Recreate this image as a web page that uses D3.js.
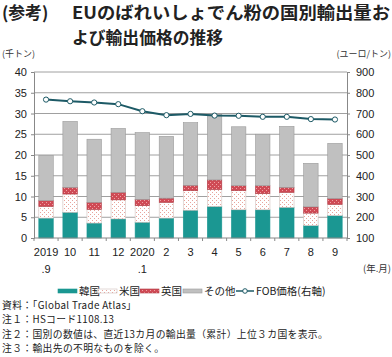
<!DOCTYPE html>
<html><head><meta charset="utf-8">
<script src="https://cdn.jsdelivr.net/npm/d3@7"></script>
<style>
body{margin:0;background:#fff;}
text{font-family:"Noto Sans CJK JP","Noto Sans",sans-serif;}
</style></head>
<body><svg id="c" width="392" height="357"></svg>
<script>
const categories = ["2019.9","10","11","12","2020.1","2","3","4","5","6","7","8","9"];
const tickLine1 = ["2019","10","11","12","2020","2","3","4","5","6","7","8","9"];
const tickLine2 = [".9","","","",".1","","","","","","","",""];
const korea = [4.8,6.2,3.6,4.6,3.8,4.8,6.7,7.6,6.8,6.8,7.4,3.0,5.4];
const usa   = [2.8,4.4,3.3,4.6,4.0,3.8,4.7,4.1,4.6,3.9,3.6,3.0,2.7];
const uk    = [1.4,1.6,1.7,1.8,1.5,1.0,1.3,2.3,1.2,1.9,1.2,1.5,1.4];
const other = [10.9,15.9,15.2,15.4,16.1,14.9,15.1,15.8,14.2,12.4,14.7,10.5,13.3];
const fob   = [767,759,753,745,711,692,698,690,689,684,684,673,671];
const leftTicks = [0,5,10,15,20,25,30,35,40];
const rightTicks = [100,200,300,400,500,600,700,800,900];
const seriesNames = ["韓国","米国","英国","その他"];

const svg = d3.select("#c");
const defs = svg.append("defs");
const pUS = defs.append("pattern").attr("id","pUS").attr("patternUnits","userSpaceOnUse").attr("width",4).attr("height",4);
pUS.append("rect").attr("width",4).attr("height",4).attr("fill","#fff");
pUS.append("rect").attr("x",0).attr("y",0).attr("width",1).attr("height",1).attr("fill","#e8a49c");
pUS.append("rect").attr("x",2).attr("y",2).attr("width",1).attr("height",1).attr("fill","#e8a49c");
const pUK = defs.append("pattern").attr("id","pUK").attr("patternUnits","userSpaceOnUse").attr("width",4).attr("height",4);
pUK.append("rect").attr("width",4).attr("height",4).attr("fill","#cf4a55");
pUK.append("rect").attr("x",0).attr("y",0).attr("width",1).attr("height",1).attr("fill","#f0a0a4");
pUK.append("rect").attr("x",2).attr("y",2).attr("width",1).attr("height",1).attr("fill","#f0a0a4");

const fills = ["#1b9792","url(#pUS)","url(#pUK)","#c0c0c0"];
const strokes = ["#1b9792","#d0c0bc","#b03a44","#9a9a9a"];

const L=34,R=347,T=72,B=238;
const x = d3.scaleBand().domain(categories).range([L,R]).paddingInner(0.4).paddingOuter(0.2);
const y = d3.scaleLinear().domain([0,40]).range([B,T]);
const y2 = d3.scaleLinear().domain([100,900]).range([B,T]);

// title
svg.append("text").attr("x",2).attr("y",19).attr("font-size",16.8).attr("font-weight","bold").attr("fill","#222").text("(参考)");
svg.append("text").attr("x",72).attr("y",19).attr("font-size",16.8).attr("font-weight","bold").attr("fill","#222").attr("textLength",318).attr("lengthAdjust","spacingAndGlyphs").text("EUのばれいしょでん粉の国別輸出量お");
svg.append("text").attr("x",72).attr("y",43.5).attr("font-size",16.8).attr("font-weight","bold").attr("fill","#222").text("よび輸出価格の推移");

// axis titles
svg.append("text").attr("x",2).attr("y",57).attr("font-size",9).attr("fill","#333").text("(千トン)");
svg.append("text").attr("x",391).attr("y",57).attr("font-size",9).attr("fill","#333").attr("text-anchor","end").text("(ユーロ/トン)");

// gridlines
svg.append("g").selectAll("line").data(leftTicks.filter(d=>d>0)).join("line")
  .attr("x1",L).attr("x2",R).attr("y1",d=>y(d)).attr("y2",d=>y(d))
  .attr("stroke","#a0a0a0").attr("stroke-width",1);

// stacked bars
const rows = categories.map((c,i)=>({cat:c,"韓国":korea[i],"米国":usa[i],"英国":uk[i],"その他":other[i]}));
const stack = d3.stack().keys(seriesNames)(rows);
stack.forEach((s,si)=>{
  svg.append("g").selectAll("rect").data(s).join("rect")
    .attr("x",d=>x(d.data.cat)).attr("width",x.bandwidth())
    .attr("y",d=>y(d[1])).attr("height",d=>y(d[0])-y(d[1]))
    .attr("fill",fills[si]).attr("stroke",strokes[si]).attr("stroke-width",0.6);
});

// axes
const gl = svg.append("g").attr("transform",`translate(${L},0)`)
  .call(d3.axisLeft(y).tickValues(leftTicks).tickSize(3).tickPadding(4));
gl.selectAll("text").attr("font-size",11).attr("fill","#222").style("font-family","Liberation Sans, Arial, sans-serif");
gl.select(".domain").attr("stroke","#888");
gl.selectAll(".tick line").attr("stroke","#888");

const gr = svg.append("g").attr("transform",`translate(${R},0)`)
  .call(d3.axisRight(y2).tickValues(rightTicks).tickSize(3).tickPadding(6));
gr.selectAll("text").attr("font-size",11).attr("fill","#222").style("font-family","Liberation Sans, Arial, sans-serif");
gr.select(".domain").attr("stroke","#888");
gr.selectAll(".tick line").attr("stroke","#888");

// bottom axis
svg.append("line").attr("x1",L).attr("x2",R).attr("y1",B).attr("y2",B).attr("stroke","#888");
svg.append("g").selectAll("line").data(d3.range(categories.length+1)).join("line")
  .attr("x1",i=>L+i*(R-L)/categories.length).attr("x2",i=>L+i*(R-L)/categories.length)
  .attr("y1",B).attr("y2",B+3).attr("stroke","#888");
svg.append("g").selectAll("text").data(categories).join("text")
  .attr("x",d=>x(d)+x.bandwidth()/2).attr("y",256).attr("text-anchor","middle")
  .attr("font-size",11).attr("fill","#222").style("font-family","Liberation Sans, Arial, sans-serif")
  .text((d,i)=>tickLine1[i]);
svg.append("g").selectAll("text").data(categories).join("text")
  .attr("x",d=>x(d)+x.bandwidth()/2).attr("y",273).attr("text-anchor","middle")
  .attr("font-size",11).attr("fill","#222").style("font-family","Liberation Sans, Arial, sans-serif")
  .text((d,i)=>tickLine2[i]);
svg.append("text").attr("x",391).attr("y",272).attr("text-anchor","end").attr("font-size",9.5).attr("fill","#333").text("(年.月)");

// FOB line
const line = d3.line().x((d,i)=>x(categories[i])+x.bandwidth()/2).y(d=>y2(d));
svg.append("path").datum(fob).attr("d",line).attr("fill","none").attr("stroke","#1d5a66").attr("stroke-width",2);
svg.append("g").selectAll("circle").data(fob).join("circle")
  .attr("cx",(d,i)=>x(categories[i])+x.bandwidth()/2).attr("cy",d=>y2(d)).attr("r",2.6)
  .attr("fill","#fff").attr("stroke","#1d5a66").attr("stroke-width",1);

// legend
const lg = svg.append("g");
const legX = [58,98,140,183];
seriesNames.forEach((n,i)=>{
  lg.append("rect").attr("x",legX[i]).attr("y",289).attr("width",19).attr("height",4)
    .attr("fill",fills[i]).attr("stroke",strokes[i]).attr("stroke-width",0.6);
  lg.append("text").attr("x",legX[i]+21).attr("y",295).attr("font-size",10.5).attr("fill","#222").text(n);
});
lg.append("line").attr("x1",236).attr("x2",254).attr("y1",291).attr("y2",291).attr("stroke","#1d5a66").attr("stroke-width",1.5);
lg.append("circle").attr("cx",245).attr("cy",291).attr("r",2.3).attr("fill","#fff").attr("stroke","#1d5a66");
lg.append("text").attr("x",256).attr("y",295).attr("font-size",10.5).attr("fill","#222").text("FOB価格(右軸)");

// notes
const notes = ["資料：「Global Trade Atlas」","注１：HSコード1108.13","注２：国別の数値は、直近13カ月の輸出量（累計）上位３カ国を表示。","注３：輸出先の不明なものを除く。"];
svg.append("g").selectAll("text").data(notes).join("text")
  .attr("x",2).attr("y",(d,i)=>309+i*14.4).attr("font-size",9.8).attr("letter-spacing",0.35)
  .attr("fill","#222").text(d=>d);
</script></body></html>
